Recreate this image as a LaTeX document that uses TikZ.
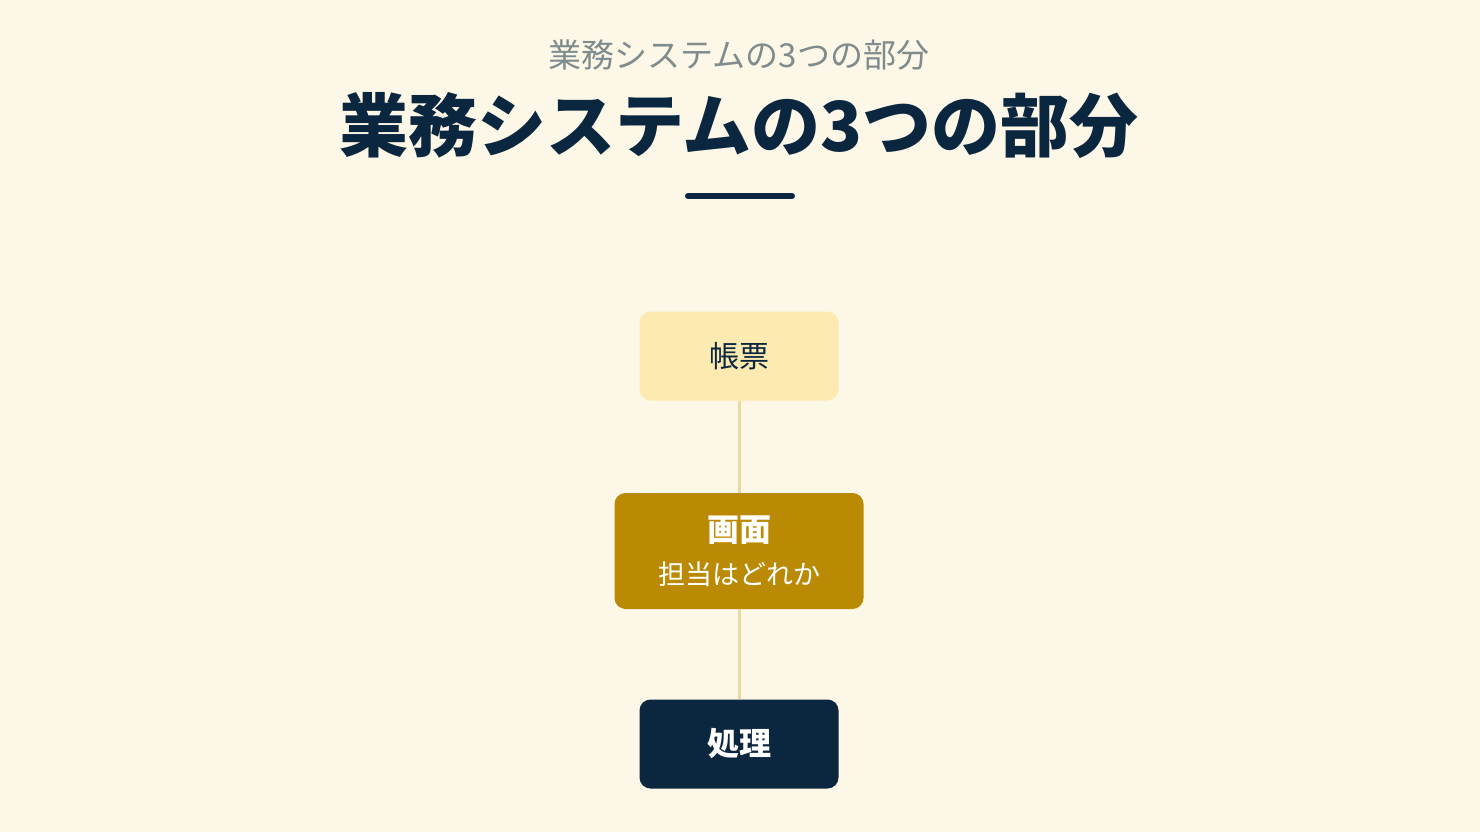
\documentclass[tikz,border=0pt]{standalone}
\usepackage{fontspec}
\setmainfont{Noto Sans CJK JP}
\usetikzlibrary{positioning}
\definecolor{bgcream}{HTML}{FDF7E7}
\definecolor{navy}{HTML}{0B2740}
\definecolor{subgray}{HTML}{7F8C8D}
\definecolor{paleyellow}{HTML}{FDEAB0}
\definecolor{goldbrown}{HTML}{BA8A05}
\definecolor{linktan}{HTML}{EDD8A2}
\tikzset{
  box/.style={rounded corners=11pt, minimum width=199pt, minimum height=89pt, inner sep=0pt, align=center},
  link/.style={draw=linktan, line width=3pt}
}
\begin{document}
\begin{tikzpicture}[x=1pt,y=-1pt]
    \fill[bgcream] (0,0) rectangle (1480,832);
    \useasboundingbox (0,0) rectangle (1480,832);

    \node[text=subgray, font=\fontsize{33}{38}\selectfont] (subtitle) at (739,55) {業務システムの3つの部分};
    \node[text=navy, font=\fontsize{69}{80}\selectfont\bfseries] (title) at (739,126) {業務システムの3つの部分};
    \coordinate (ruleL) at (688,196);
    \coordinate (ruleR) at (792,196);
    \draw[navy, line width=6pt, line cap=round] (ruleL) -- (ruleR);

    \node[box, fill=paleyellow, text=navy, font=\fontsize{30}{36}\selectfont] (report) at (739,356) {帳票};
    \node[box, fill=goldbrown, text=white, minimum width=249pt, minimum height=116pt, font=\fontsize{27}{43}\selectfont] (screen) at (739,551)
        {{\fontsize{32}{43}\selectfont\bfseries 画面}\\ 担当はどれか};
    \node[box, fill=navy, text=white, font=\fontsize{32}{38}\selectfont\bfseries] (process) at (739,744) {処理};

    \draw[link] (report) -- (screen);
    \draw[link] (screen) -- (process);
\end{tikzpicture}
\end{document}
